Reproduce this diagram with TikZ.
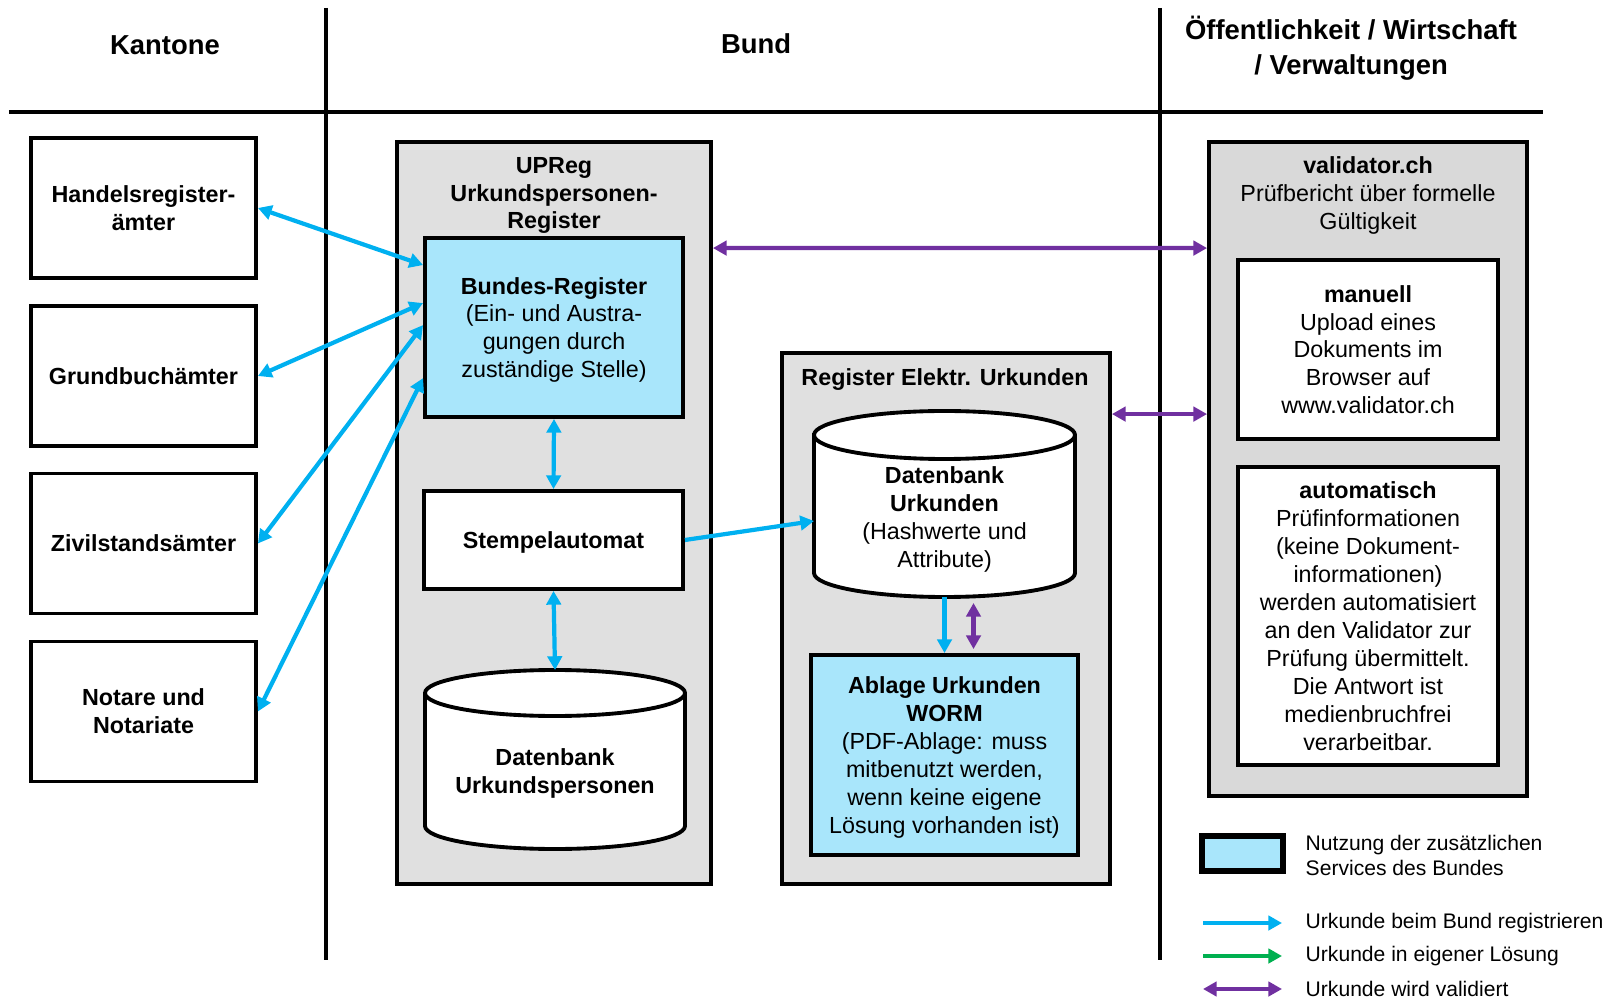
\documentclass[tikz,border=0pt]{standalone}
\usepackage{fontspec}
\setmainfont{Liberation Sans}
\usepackage{tikz}
\usetikzlibrary{arrows.meta}
\definecolor{bundblue}{HTML}{00B0F0}
\definecolor{eigengreen}{HTML}{00B050}
\definecolor{validpurple}{HTML}{7030A0}
\definecolor{servicefill}{HTML}{A9E6FB}
\definecolor{panelgray}{HTML}{E0E0E0}
\definecolor{valgray}{HTML}{D9D9D9}

\tikzset{
  >={Triangle[length=3.9pt,width=4.1pt]},
  hdr/.style={font=\fontsize{7.8pt}{9.9pt}\selectfont\bfseries, align=center, inner sep=0pt, text depth=0pt},
  titel/.style={font=\fontsize{6.63pt}{7.94pt}\selectfont\bfseries, align=center, inner sep=0pt, text depth=0pt},
  bodytxt/.style={font=\fontsize{6.63pt}{7.94pt}\selectfont, align=center, inner sep=0pt, text depth=0pt},
  amt/.style={draw, line width=1.1pt, fill=white, minimum width=2.25cm, minimum height=1.40cm,
    font=\fontsize{6.63pt}{7.94pt}\selectfont\bfseries, align=center, inner sep=0pt, text depth=0pt},
  panel/.style={draw, line width=1.1pt, fill=panelgray, inner sep=0pt},
  wbox/.style={draw, line width=1.1pt, fill=white, bodytxt},
  svc/.style={draw, line width=1.1pt, fill=servicefill, bodytxt},
  dbbox/.style={inner sep=0pt, outer sep=0pt},
  cyl/.style={draw, line width=1.1pt, fill=white},
  lgtext/.style={font=\fontsize{6.0pt}{7.33pt}\selectfont, align=left, inner sep=0pt},
  bundarrow/.style={bundblue, line width=1.2pt},
  eigenarrow/.style={eigengreen, line width=1.2pt},
  valarrow/.style={validpurple, line width=1.2pt}
}

\begin{document}
\begin{tikzpicture}
\useasboundingbox (0,0) rectangle (16.15,-10);

% ---- Spalten ----
\draw[line width=1.15pt] (0.09,-1.12) -- (15.43,-1.12);
\draw[line width=1.15pt] (3.26,-0.08) -- (3.26,-9.60);
\draw[line width=1.15pt] (11.60,-0.08) -- (11.60,-9.60);

\node[hdr] (hkant) at (1.65,-0.45) {Kantone};
\node[hdr] (hbund) at (7.56,-0.44) {Bund};
\node[hdr] (hoeff) at (13.51,-0.45) {Öffentlichkeit / Wirtschaft\\/ Verwaltungen};

% ---- Kantone ----
\node[amt] (hreg) at (1.435,-2.08) {Handelsregister-\\ämter};
\node[amt] (gbuch) at (1.435,-3.76) {Grundbuchämter};
\node[amt] (zivil) at (1.435,-5.435) {Zivilstandsämter};
\node[amt] (notar) at (1.435,-7.115) {Notare und\\Notariate};

% ---- Bund: UPReg ----
\node[panel, minimum width=3.14cm, minimum height=7.42cm] (upreg) at (5.54,-5.13) {};
\node[titel] (upregt) at (5.54,-1.93) {UPReg\\Urkundspersonen-\\Register};
\node[svc, minimum width=2.58cm, minimum height=1.79cm] (breg) at (5.54,-3.275)
  {\textbf{Bundes-Register}\\(Ein- und Austra-\\gungen durch\\zuständige Stelle)};
\node[wbox, minimum width=2.59cm, minimum height=0.98cm] (stemp) at (5.535,-5.40) {\textbf{Stempelautomat}};

% Datenbank Urkundspersonen (Zylinder)
\node[dbbox, minimum width=2.60cm, minimum height=1.79cm] (dbp) at (5.55,-7.595) {};
\draw[cyl] ([yshift=-0.23cm]dbp.north west) -- ([yshift=0.23cm]dbp.south west)
  arc[start angle=180, end angle=360, x radius=1.30cm, y radius=0.23cm]
  -- ([yshift=-0.23cm]dbp.north east)
  arc[start angle=0, end angle=180, x radius=1.30cm, y radius=0.23cm] -- cycle;
\draw[line width=1.1pt] ([yshift=-0.23cm]dbp.north west)
  arc[start angle=180, end angle=360, x radius=1.30cm, y radius=0.23cm];
\node[titel] (dbpt) at ([yshift=-0.115cm]dbp.center) {Datenbank\\Urkundspersonen};

% ---- Bund: Register Elektr. Urkunden ----
\node[panel, minimum width=3.28cm, minimum height=5.31cm] (rel) at (9.46,-6.185) {};
\node[titel] (relt) at (9.45,-3.77) {Register Elektr. Urkunden};

% Datenbank Urkunden (Zylinder)
\node[dbbox, minimum width=2.61cm, minimum height=1.86cm] (dbu) at (9.445,-5.04) {};
\draw[cyl] ([yshift=-0.24cm]dbu.north west) -- ([yshift=0.24cm]dbu.south west)
  arc[start angle=180, end angle=360, x radius=1.305cm, y radius=0.24cm]
  -- ([yshift=-0.24cm]dbu.north east)
  arc[start angle=0, end angle=180, x radius=1.305cm, y radius=0.24cm] -- cycle;
\draw[line width=1.1pt] ([yshift=-0.24cm]dbu.north west)
  arc[start angle=180, end angle=360, x radius=1.305cm, y radius=0.24cm];
\node[bodytxt] (dbut) at ([yshift=-0.13cm]dbu.center)
  {\textbf{Datenbank}\\\textbf{Urkunden}\\(Hashwerte und\\Attribute)};

\node[svc, minimum width=2.67cm, minimum height=2.00cm] (worm) at (9.445,-7.55)
  {\textbf{Ablage Urkunden}\\\textbf{WORM}\\(PDF-Ablage: muss\\mitbenutzt werden,\\wenn keine eigene\\Lösung vorhanden ist)};

% ---- validator.ch ----
\node[panel, fill=valgray, minimum width=3.18cm, minimum height=6.54cm] (vali) at (13.68,-4.69) {};
\node[bodytxt] (valit) at (13.68,-1.93) {\textbf{validator.ch}\\Prüfbericht über formelle\\Gültigkeit};
\node[wbox, minimum width=2.60cm, minimum height=1.79cm] (manu) at (13.68,-3.495)
  {\textbf{manuell}\\Upload eines\\Dokuments im\\Browser auf\\www.validator.ch};
\node[wbox, minimum width=2.60cm, minimum height=2.98cm] (autom) at (13.68,-6.16)
  {\textbf{automatisch}\\Prüfinformationen\\(keine Dokument-\\informationen)\\werden automatisiert\\an den Validator zur\\Prüfung übermittelt.\\Die Antwort ist\\medienbruchfrei\\verarbeitbar.};

% ---- Verbindungen ----
\draw[bundarrow, <->] (hreg.east) -- ([yshift=-0.29cm]breg.north west);
\draw[bundarrow, <->] (gbuch.east) -- ([yshift=-0.67cm]breg.north west);
\draw[bundarrow, <->] (zivil.east) -- ([yshift=-0.89cm]breg.north west);
\draw[bundarrow, <->] (notar.east) -- ([yshift=-1.42cm]breg.north west);
\draw[bundarrow, <->] (breg.south) -- (stemp.north);
\draw[bundarrow, <->] (stemp.south) -- (dbp.north);
\draw[bundarrow, ->] (stemp.east) -- ([yshift=-0.17cm]dbu.west);
\draw[bundarrow, ->] (dbu.south) -- (worm.north);
\draw[valarrow, <->] ([xshift=0.29cm,yshift=-0.06cm]dbu.south) -- ([xshift=0.29cm,yshift=0.04cm]worm.north);

\draw[valarrow, <->] ([yshift=-1.08cm]upreg.north east) -- ([yshift=-1.08cm]vali.north west);
\coordinate (relv) at ([yshift=-0.63cm]rel.north east);
\draw[valarrow, <->] (relv) -- (relv -| vali.west);

% ---- Legende ----
\node[svc, line width=1.5pt, minimum width=0.81cm, minimum height=0.35cm] (lgbox) at (12.425,-8.535) {};
\node[lgtext, anchor=west] (lgt1) at (13.05,-8.555) {Nutzung der zusätzlichen\\Services des Bundes};

\coordinate (lga) at (12.03,-9.23);
\coordinate (lgb) at (12.03,-9.56);
\coordinate (lgc) at (12.03,-9.89);
\draw[bundarrow, ->] (lga) -- ++(0.79,0);
\draw[eigenarrow, ->] (lgb) -- ++(0.79,0);
\draw[valarrow, <->] (lgc) -- ++(0.79,0);
\node[lgtext, anchor=west] (lgt2) at (13.05,-9.23) {Urkunde beim Bund registrieren};
\node[lgtext, anchor=west] (lgt3) at (13.05,-9.56) {Urkunde in eigener Lösung};
\node[lgtext, anchor=west] (lgt4) at (13.05,-9.89) {Urkunde wird validiert};

\end{tikzpicture}
\end{document}
